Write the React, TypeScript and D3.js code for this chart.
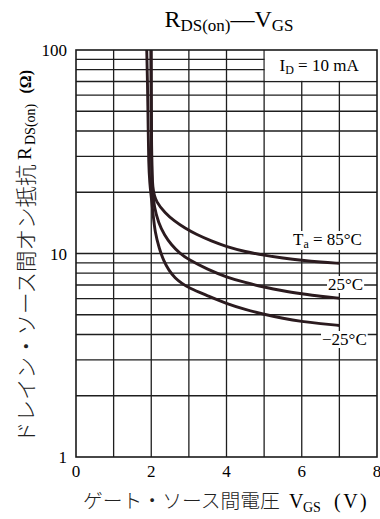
import React, { useEffect, useRef } from 'react';
import * as d3 from 'd3';

// gate-source voltage (V) and on-resistance (ohm)
const volt85 = [1.995, 2.0, 2.01, 2.03, 2.13, 2.37, 2.6, 2.9, 3.2, 3.6, 4.0, 4.5, 5.0, 5.5, 6.0, 6.5, 7.0];
const res85 = [100, 50, 30, 20.5, 17.9, 15.8, 14.5, 13.3, 12.4, 11.5, 10.8, 10.2, 9.8, 9.5, 9.25, 9.07, 8.95];

const volt25 = [1.995, 2.0, 2.01, 2.02, 2.08, 2.19, 2.35, 2.54, 2.75, 3.0, 3.5, 4.0, 4.5, 5.0, 5.5, 6.0, 6.5, 7.0];
const res25 = [100, 50, 30, 21, 16.8, 14.2, 12.3, 11.0, 10.05, 9.3, 8.35, 7.65, 7.2, 6.83, 6.55, 6.34, 6.15, 6.03];

const voltM25 = [1.88, 1.9, 1.92, 1.93, 1.96, 2.0, 2.05, 2.1, 2.21, 2.33, 2.47, 2.63, 2.82, 3.0, 3.5, 4.0, 4.5, 5.0, 5.5, 6.0, 6.5, 7.0];
const resM25 = [100, 70, 40, 28, 22, 19, 15.5, 12.7, 10.6, 9.2, 8.25, 7.58, 7.12, 6.77, 6.2, 5.66, 5.3, 5.02, 4.8, 4.63, 4.52, 4.43];

const xTicks = [0, 2, 4, 6, 8];
const yTicks = [1, 10, 100];
const seriesNames = ['85', '25', '-25'];

const serif = "'Liberation Serif', 'Times New Roman', serif";
const jp = "'Noto Sans CJK JP', sans-serif";

const App = () => {
  const ref = useRef<SVGSVGElement>(null);

  useEffect(() => {
    const svg = d3.select(ref.current);
    svg.selectAll('*').remove();

    const x = d3.scaleLinear().domain([0, 8]).range([76, 377]);
    const y = d3.scaleLog().domain([1, 100]).range([457, 50]);

    // grid
    const grid = svg.append('g').attr('stroke', '#1e1e1e').attr('stroke-width', 1.3);
    grid.selectAll('line.v')
      .data(d3.range(1, 8))
      .join('line')
      .attr('x1', d => x(d)).attr('x2', d => x(d))
      .attr('y1', y(100)).attr('y2', y(1));
    grid.selectAll('line.h')
      .data(y.ticks().filter(d => d > 1 && d < 100))
      .join('line')
      .attr('x1', x(0)).attr('x2', x(8))
      .attr('y1', d => y(d)).attr('y2', d => y(d));

    // blank box behind the I_D note
    svg.append('rect')
      .attr('x', x(5) + 0.7).attr('y', y(100))
      .attr('width', x(8) - x(5) - 0.7).attr('height', y(70) - y(100) - 0.7)
      .attr('fill', '#fff');

    // curves
    const line = d3.line<[number, number]>()
      .x(d => x(d[0]))
      .y(d => y(d[1]))
      .curve(d3.curveBasis);
    const series = [
      d3.zip(volt85, res85),
      d3.zip(volt25, res25),
      d3.zip(voltM25, resM25),
    ] as [number, number][][];
    svg.append('g')
      .selectAll('path')
      .data(series)
      .join('path')
      .attr('class', (_, i) => 'curve-' + seriesNames[i])
      .attr('d', d => line(d))
      .attr('fill', 'none')
      .attr('stroke', '#2b1b1f')
      .attr('stroke-width', 2.9);

    // frame
    svg.append('rect')
      .attr('x', x(0)).attr('y', y(100))
      .attr('width', x(8) - x(0)).attr('height', y(1) - y(100))
      .attr('fill', 'none').attr('stroke', '#1a1a1a').attr('stroke-width', 1.6);

    // tick labels
    svg.append('g')
      .selectAll('text')
      .data(xTicks)
      .join('text')
      .attr('x', d => x(d)).attr('y', 477)
      .attr('text-anchor', 'middle')
      .attr('font-family', serif).attr('font-size', 17)
      .text(d => d);
    svg.append('g')
      .selectAll('text')
      .data(yTicks)
      .join('text')
      .attr('x', 67).attr('y', d => y(d) + 6)
      .attr('text-anchor', 'end')
      .attr('font-family', serif).attr('font-size', 17)
      .text(d => d);

    // title
    const title = svg.append('text')
      .attr('x', 229).attr('y', 27)
      .attr('text-anchor', 'middle')
      .attr('font-family', serif).attr('font-size', 24);
    title.append('tspan').text('R');
    title.append('tspan').attr('font-size', 17).attr('dy', 4).text('DS(on)');
    title.append('tspan').attr('dy', -4).text('—V');
    title.append('tspan').attr('font-size', 17).attr('dy', 4).text('GS');

    // labels with white backing
    const withBg = (t: d3.Selection<SVGTextElement, unknown, null, undefined>) => {
      const b = (t.node() as SVGTextElement).getBBox();
      svg.insert('rect', () => t.node())
        .attr('x', b.x - 1).attr('y', b.y + 1)
        .attr('width', b.width + 2).attr('height', b.height - 2)
        .attr('fill', '#fff');
    };

    const id = svg.append('text')
      .attr('x', 279.5).attr('y', 70.5)
      .attr('font-family', serif).attr('font-size', 17);
    id.append('tspan').text('I');
    id.append('tspan').attr('font-size', 12).attr('dy', 3).text('D');
    id.append('tspan').attr('dy', -3).text(' = 10 mA');

    const ta = svg.append('text')
      .attr('x', 293).attr('y', 245)
      .attr('font-family', serif).attr('font-size', 17);
    ta.append('tspan').text('T');
    ta.append('tspan').attr('font-size', 12).attr('dy', 3).text('a');
    ta.append('tspan').attr('dy', -3).text(' = 85°C');
    withBg(ta);

    const t25 = svg.append('text')
      .attr('x', 328).attr('y', 290)
      .attr('font-family', serif).attr('font-size', 17)
      .text('25°C');
    withBg(t25);

    const tm25 = svg.append('text')
      .attr('x', 322).attr('y', 345)
      .attr('font-family', serif).attr('font-size', 17)
      .text('−25°C');
    withBg(tm25);

    // x axis title
    svg.append('text')
      .attr('x', 83).attr('y', 508)
      .attr('font-family', jp).attr('font-size', 19.8).attr('font-weight', 300)
      .attr('fill', '#222')
      .text('ゲート・ソース間電圧');
    svg.append('text')
      .attr('x', 289).attr('y', 508)
      .attr('font-family', serif).attr('font-size', 20)
      .text('V');
    svg.append('text')
      .attr('x', 303).attr('y', 512)
      .attr('font-family', serif).attr('font-size', 14)
      .text('GS');
    svg.append('text')
      .attr('x', 334).attr('y', 508)
      .attr('font-family', serif).attr('font-size', 20)
      .attr('letter-spacing', 2.5)
      .text('(V)');

    // y axis title (rotated)
    svg.append('text')
      .attr('transform', 'translate(34,443) rotate(-90)')
      .attr('font-family', jp).attr('font-size', 21.5).attr('font-weight', 300)
      .attr('fill', '#222')
      .text('ドレイン・ソース間オン抵抗');
    svg.append('text')
      .attr('transform', 'translate(30.5,160) rotate(-90)')
      .attr('font-family', serif).attr('font-size', 19)
      .text('R');
    svg.append('text')
      .attr('transform', 'translate(34.5,145) rotate(-90)')
      .attr('font-family', serif).attr('font-size', 14)
      .text('DS(on)');
    svg.append('text')
      .attr('transform', 'translate(31,70) rotate(-90)')
      .attr('text-anchor', 'end')
      .attr('font-family', serif).attr('font-size', 16).attr('font-weight', 'bold')
      .text('(Ω)');
  }, []);

  return (
    <svg
      ref={ref}
      width={380}
      height={519}
      style={{ position: 'absolute', left: 0, top: 0, background: '#fff' }}
    />
  );
};

export default App;
